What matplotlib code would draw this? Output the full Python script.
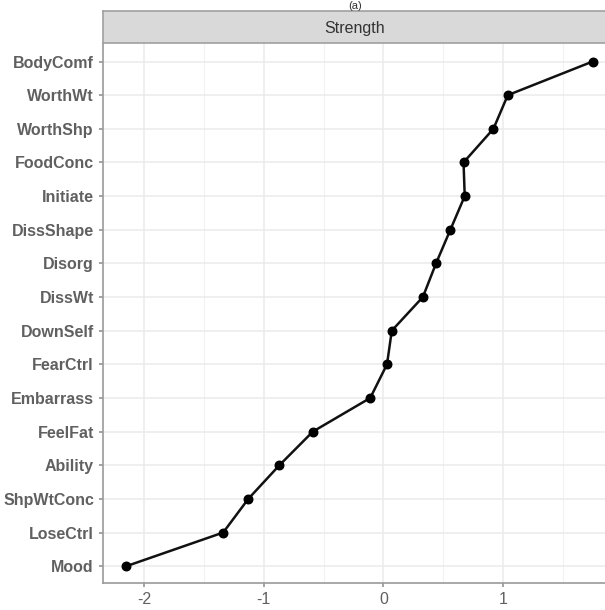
import matplotlib
matplotlib.use("Agg")
import matplotlib.pyplot as plt
import numpy as np

plt.rcParams['font.family'] = ['Liberation Sans', 'DejaVu Sans']

# symptoms, bottom to top
nodes = ['Mood', 'LoseCtrl', 'ShpWtConc', 'Ability', 'FeelFat', 'Embarrass',
         'FearCtrl', 'DownSelf', 'DissWt', 'Disorg', 'DissShape', 'Initiate',
         'FoodConc', 'WorthShp', 'WorthWt', 'BodyComf']
strength = [-2.15, -1.34, -1.13, -0.87, -0.59, -0.11,
            0.03, 0.07, 0.33, 0.44, 0.56, 0.68,
            0.67, 0.92, 1.04, 1.75]
xticks = [-2, -1, 0, 1]

fig = plt.figure(figsize=(6.05, 6.1), dpi=100)
W, H = 605, 610
left, right = 103, 616
top, bottom = 43, 583
ax = fig.add_axes([left / W, 1 - bottom / H, (right - left) / W, (bottom - top) / H])

y = np.arange(len(nodes))
ax.plot(strength, y, color='#111111', lw=1.8, zorder=3)
ax.scatter(strength, y, s=38, color='black', zorder=4)

ax.set_xlim(-2.345, 1.945)
ax.set_ylim(-0.5, len(nodes) - 0.45)
ax.set_xticks(xticks)
ax.set_xticklabels([str(t) for t in xticks])
ax.set_xticks([-1.5, -0.5, 0.5, 1.5], minor=True)
ax.set_yticks(y)
ax.set_yticklabels(nodes)

ax.grid(which='major', color='#ebebeb', lw=1.1)
ax.grid(which='minor', axis='x', color='#f2f2f2', lw=0.8)
ax.set_axisbelow(True)
for s in ['top', 'right']:
    ax.spines[s].set_visible(False)
for s in ['left', 'bottom']:
    ax.spines[s].set_color('#999999')
    ax.spines[s].set_linewidth(1.2)
ax.tick_params(axis='both', which='major', colors='#8a8a8a', length=3, width=1.1,
               labelsize=11.5, labelcolor='#606060')
ax.tick_params(axis='both', which='minor', length=0)
for lab in ax.get_yticklabels():
    lab.set_fontweight('bold')

# facet strip
sax = fig.add_axes([left / W, 1 - top / H, (right - left) / W, 32 / H])
sax.set_facecolor('#d9d9d9')
sax.set_xticks([])
sax.set_yticks([])
for s in sax.spines.values():
    s.set_color('#a0a0a0')
    s.set_linewidth(1.2)
sax.text((355 - left) / (right - left), 0.45, 'Strength', transform=sax.transAxes,
         ha='center', va='center', fontsize=11.5, color='#333333')

fig.text(355 / W, 1 - 1 / H, '(a)', ha='center', va='top', fontsize=8, color='#333333')

fig.savefig('out.png', dpi=100)
